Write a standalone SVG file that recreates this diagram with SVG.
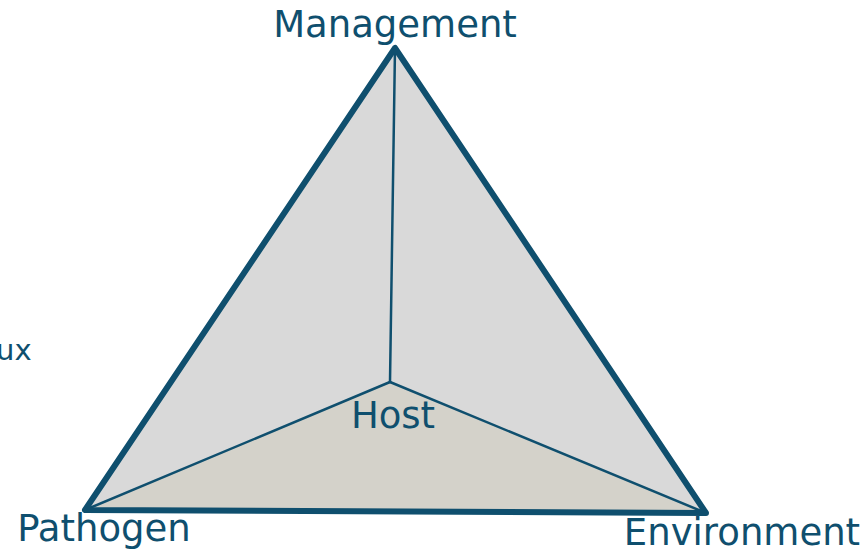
<svg xmlns="http://www.w3.org/2000/svg" width="866" height="551" viewBox="0 0 866 551">
  <style>
    .lbl { font-family: "DejaVu Sans", Verdana, sans-serif; fill: #0f4f6e; font-size: 37px; }
    .edge { stroke: #0f4f6e; stroke-linecap: round; stroke-linejoin: round; fill: none; }
  </style>
  <rect width="866" height="551" fill="#ffffff"/>

  <!-- pyramid faces -->
  <g id="faces">
    <polygon points="395,48 85,510 390,382" fill="#d9d9d9"/>
    <polygon points="395,48 390,382 706,513" fill="#d9d9d9"/>
    <polygon points="85,510 390,382 706,513" fill="#d4d2ca"/>
  </g>

  <!-- edges -->
  <g id="connectors">
    <line class="edge" x1="395" y1="48" x2="390" y2="382" stroke-width="2.5"/>
    <line class="edge" x1="85" y1="510" x2="390" y2="382" stroke-width="2.5"/>
    <line class="edge" x1="390" y1="382" x2="706" y2="513" stroke-width="2.5"/>
    <polygon class="edge" points="395,48 85,510 706,513" stroke-width="6"/>
  </g>

  <g id="management"><text class="lbl" x="395" y="37" text-anchor="middle">Management</text></g>
  <g id="host"><text class="lbl" x="393" y="428" text-anchor="middle">Host</text></g>
  <g id="pathogen"><text class="lbl" x="104" y="541" text-anchor="middle">Pathogen</text></g>
  <g id="environment"><text class="lbl" x="742" y="545" text-anchor="middle">Environment</text></g>
  <g id="fragment"><text class="lbl" x="-4" y="360" style="font-size:29px">ux</text></g>
</svg>
